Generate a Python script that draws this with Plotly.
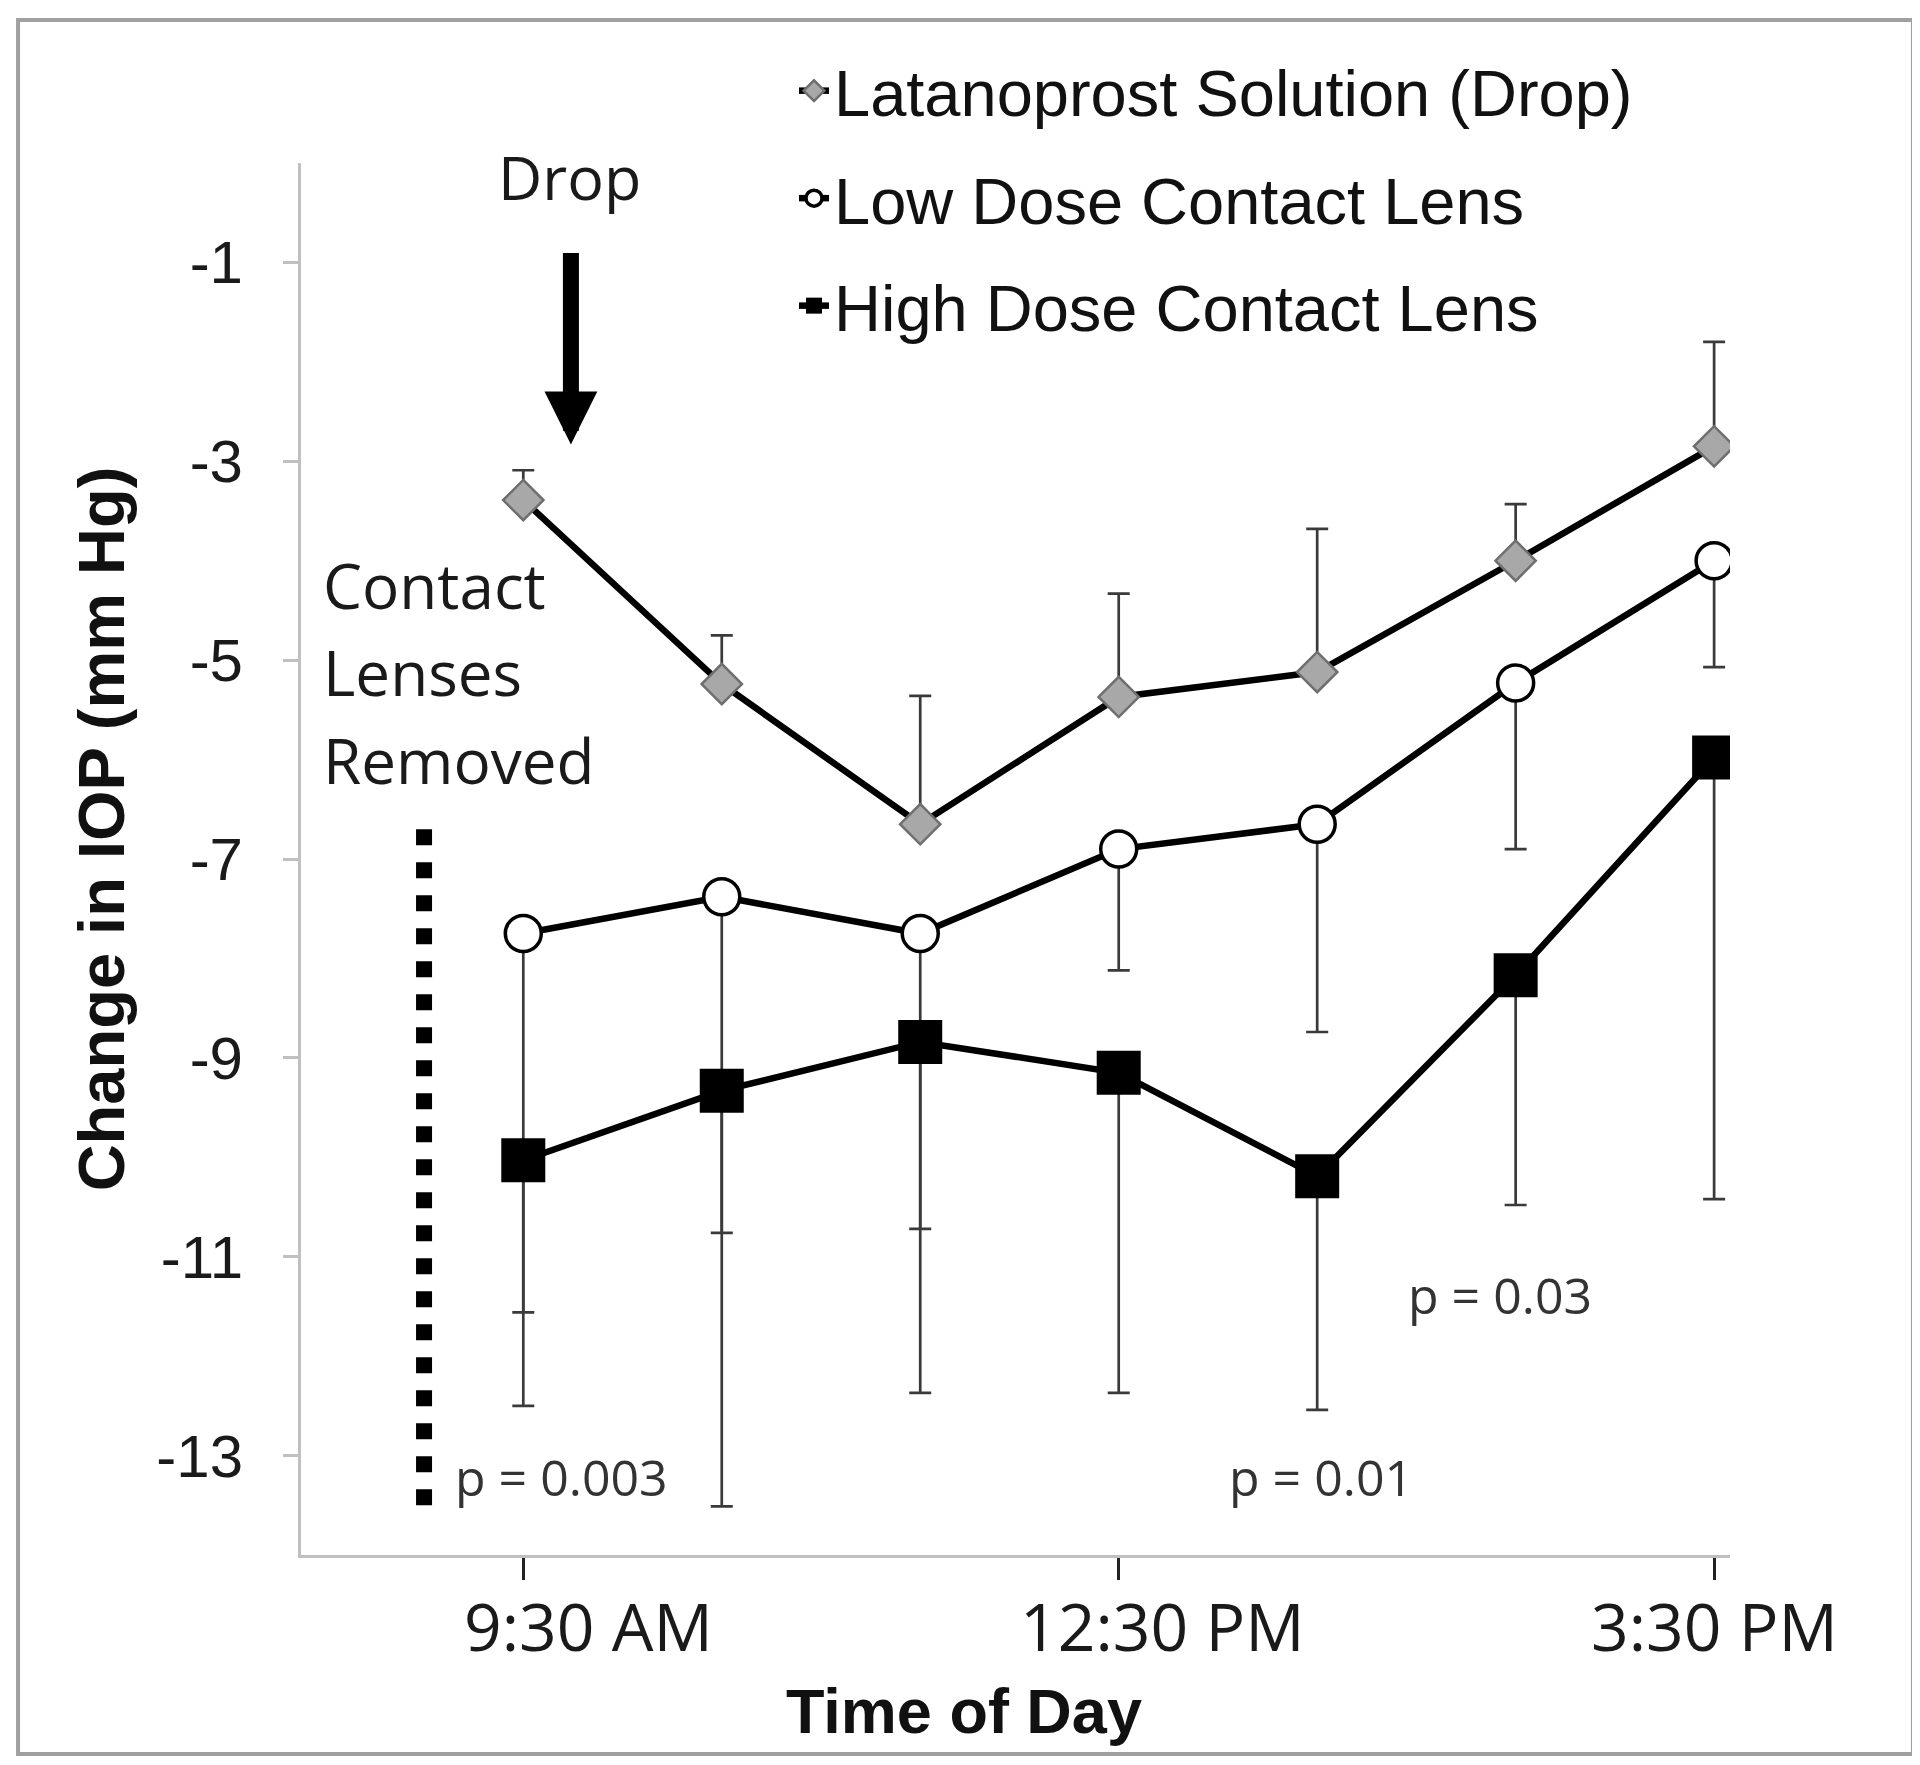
import plotly.graph_objects as go

# ---------------- data ----------------
time_hours = [0, 1, 2, 3, 4, 5, 6]          # hours after 9:30 AM (9:30 ... 3:30 PM)
series_names = ["Latanoprost Solution (Drop)", "Low Dose Contact Lens", "High Dose Contact Lens"]
latanoprost = [-3.39, -5.24, -6.65, -5.37, -5.12, -4.00, -2.85]
latanoprost_err_plus = [0.30, 0.49, 1.29, 1.04, 1.44, 0.57, 1.05]
low_dose = [-7.75, -7.38, -7.75, -6.90, -6.65, -5.23, -4.00]
low_dose_err_minus = [4.75, 6.13, 4.62, 1.22, 2.09, 1.67, 1.07]
high_dose = [-10.03, -9.33, -8.84, -9.15, -10.19, -8.17, -5.98]
high_dose_err_minus = [1.53, 1.43, 1.88, 3.22, 2.35, 2.31, 4.44]
zeros = [0, 0, 0, 0, 0, 0, 0]

x_tick_vals = [0, 3, 6]
x_tick_labels = ["9:30 AM", "12:30 PM", "3:30 PM"]
y_tick_vals = [-1, -3, -5, -7, -9, -11, -13]
y_tick_labels = ["-1", "-3", "-5", "-7", "-9", "-11", "-13"]
p_labels = ["p = 0.003", "p = 0.01", "p = 0.03"]

# ---------------- styles ----------------
SANS = "Liberation Sans, Arial, sans-serif"
HUMAN = "Open Sans, Noto Sans, sans-serif"
ERR_COLOR = "#3a3a3a"
LINE_W = 6.5

fig = go.Figure()

fig.add_trace(go.Scatter(
    x=time_hours, y=latanoprost, name=series_names[0], legendgroup="a",
    mode="lines+markers",
    line=dict(color="black", width=LINE_W),
    marker=dict(symbol="diamond", size=31, color="#a8a8a8", line=dict(color="#6e6e6e", width=2.5)),
    error_y=dict(type="data", symmetric=False, array=latanoprost_err_plus, arrayminus=zeros,
                 color=ERR_COLOR, thickness=2.7, width=11),
))
fig.add_trace(go.Scatter(
    x=time_hours, y=low_dose, name=series_names[1], legendgroup="b",
    mode="lines+markers",
    line=dict(color="black", width=LINE_W),
    marker=dict(symbol="circle", size=36, color="white", line=dict(color="black", width=3.5)),
    error_y=dict(type="data", symmetric=False, array=zeros, arrayminus=low_dose_err_minus,
                 color=ERR_COLOR, thickness=2.7, width=11),
))
fig.add_trace(go.Scatter(
    x=time_hours, y=high_dose, name=series_names[2], legendgroup="c",
    mode="lines+markers",
    line=dict(color="black", width=LINE_W),
    marker=dict(symbol="square", size=44, color="black", line=dict(color="black", width=0)),
    error_y=dict(type="data", symmetric=False, array=zeros, arrayminus=high_dose_err_minus,
                 color=ERR_COLOR, thickness=2.7, width=11),
))

annotations = []
# x tick labels (offset slightly right of their ticks, as in the original)
x_label_offsets = [0.33, 0.22, 0.0]
for v, lab, off in zip(x_tick_vals, x_tick_labels, x_label_offsets):
    annotations.append(dict(x=v + off, y=-0.0505, xref="x", yref="paper", text=lab,
                            showarrow=False, xanchor="center", yanchor="middle",
                            font=dict(family=HUMAN, size=66, color="#1a1a1a")))
# axis titles
annotations.append(dict(x=0.464, y=-0.112, xref="paper", yref="paper", text="<b>Time of Day</b>",
                        showarrow=False, xanchor="center", yanchor="middle",
                        font=dict(family=SANS, size=63, color="#111111")))
annotations.append(dict(x=-0.14, y=0.522, xref="paper", yref="paper",
                        text="<b>Change in IOP (mm Hg)</b>", textangle=-90,
                        showarrow=False, xanchor="center", yanchor="middle",
                        font=dict(family=SANS, size=65, color="#111111")))
# Drop label and arrow
annotations.append(dict(x=0.235, y=-0.14, xref="x", yref="y", text="Drop", showarrow=False,
                        xanchor="center", yanchor="middle",
                        font=dict(family=HUMAN, size=61, color="#1a1a1a")))
annotations.append(dict(x=0.24, y=-2.83, xref="x", yref="y", text="", showarrow=True,
                        ax=0.24, ay=-0.89, axref="x", ayref="y",
                        arrowhead=2, arrowwidth=16, arrowsize=0.66, arrowcolor="black"))
# Contact lenses removed label
for txt, yy in zip(["Contact", "Lenses", "Removed"], [-4.24, -5.12, -6.0]):
    annotations.append(dict(x=-1.02, y=yy, xref="x", yref="y", text=txt, showarrow=False,
                            xanchor="left", yanchor="middle",
                            font=dict(family=HUMAN, size=62, color="#1a1a1a")))
# p-values
for txt, xx, yy in zip(p_labels, [0.19, 4.02, 4.92], [-13.22, -13.22, -11.38]):
    annotations.append(dict(x=xx, y=yy, xref="x", yref="y", text=txt, showarrow=False,
                            xanchor="center", yanchor="middle",
                            font=dict(family=HUMAN, size=50, color="#333333")))

shapes = [
    # dotted line marking lens removal
    dict(type="line", xref="x", yref="y", x0=-0.5, x1=-0.5, y0=-6.7, y1=-13.5,
         line=dict(color="black", width=16, dash="16px,17px")),
    # outer frame
    dict(type="rect", xref="paper", yref="paper", x0=-0.198, x1=1.128, y0=-0.143, y1=1.1027,
         line=dict(color="#a0a0a0", width=4), fillcolor="rgba(0,0,0,0)"),
]

fig.update_layout(
    width=1920, height=1765,
    margin=dict(l=293, r=198, t=155, b=218),
    paper_bgcolor="white", plot_bgcolor="white",
    showlegend=True,
    legend=dict(x=0.345, y=1.087, xanchor="left", yanchor="top",
                font=dict(family=SANS, size=65, color="#111111"),
                bgcolor="rgba(0,0,0,0)", tracegroupgap=20, itemsizing="trace"),
    annotations=annotations,
    shapes=shapes,
    xaxis=dict(range=[-1.12, 6.08], tickmode="array", tickvals=x_tick_vals,
               showticklabels=False, ticks="outside", ticklen=22, tickwidth=3,
               tickcolor="#222222", showline=True, linecolor="#c0c0c0", linewidth=3,
               showgrid=False, zeroline=False),
    yaxis=dict(range=[-14, 0], tickmode="array", tickvals=y_tick_vals, ticktext=y_tick_labels,
               ticks="outside", ticklen=15, tickwidth=3, tickcolor="#c0c0c0",
               showline=True, linecolor="#c0c0c0", linewidth=3,
               showgrid=False, zeroline=False, ticklabelstandoff=28,
               tickfont=dict(family=SANS, size=60, color="#1a1a1a")),
)

fig.write_html("out.html")
